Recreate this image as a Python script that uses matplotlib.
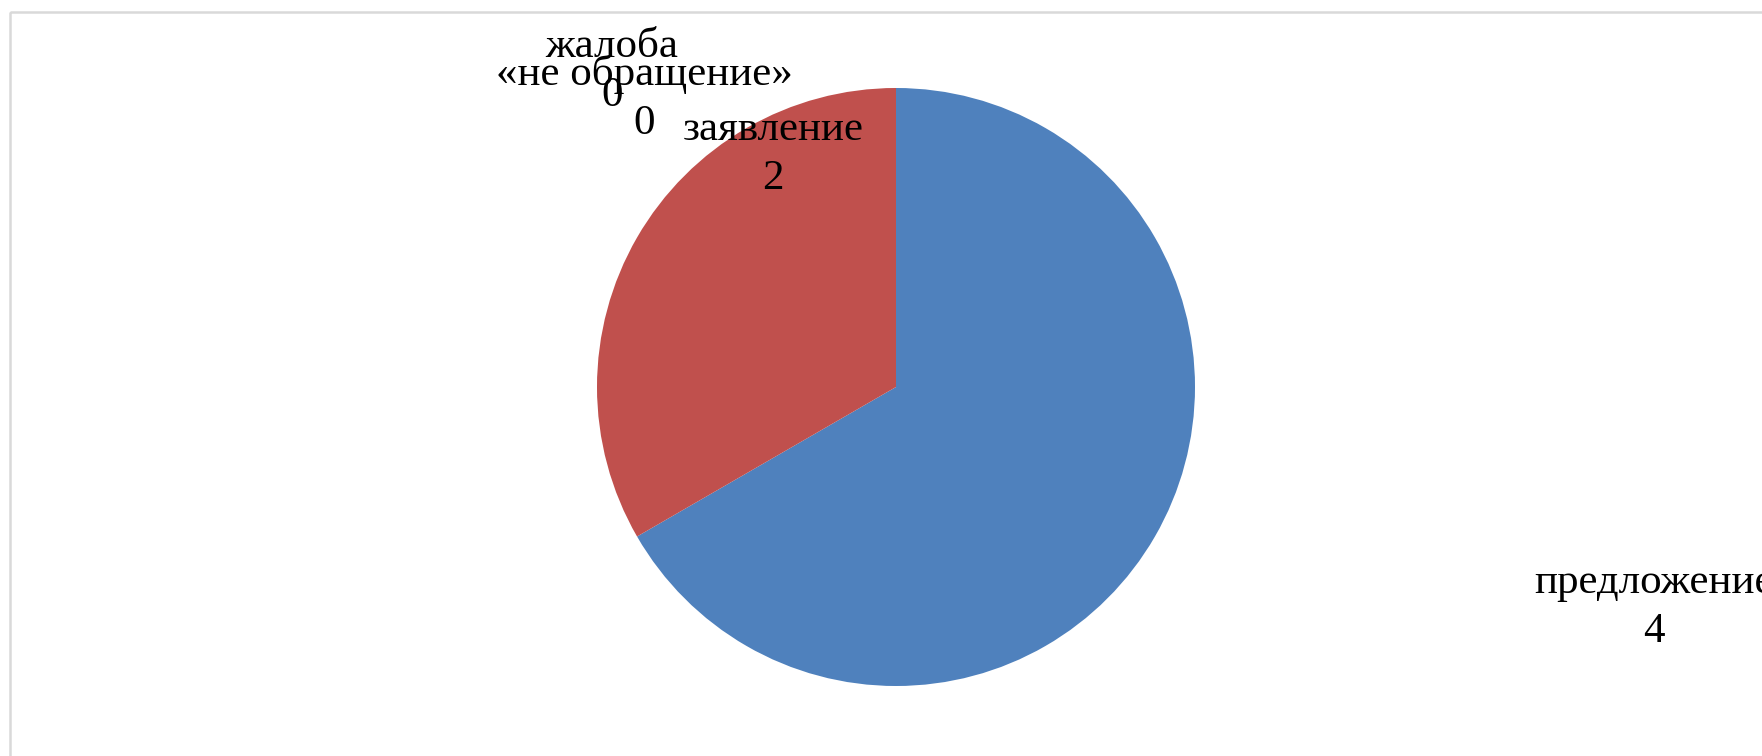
import matplotlib.pyplot as plt
from matplotlib.patches import Rectangle

categories = ['предложение', 'заявление', 'жалоба', '«не обращение»']
values = [4, 2, 0, 0]
colors = ['#4F81BD', '#C0504D', '#9BBB59', '#8064A2']

# label anchors (pixel coords, baseline of the value line)
label_pos = [(1654, 642), (773, 189), (612, 106), (644, 134)]

plt.rcParams['font.family'] = ['Liberation Serif', 'DejaVu Serif']

fig = plt.figure(figsize=(17.62, 7.56), dpi=100)
ax = fig.add_axes([0, 0, 1, 1])

ax.pie(values, colors=colors, startangle=-90, counterclock=True,
       center=(896, 387), radius=299, frame=True,
       wedgeprops=dict(linewidth=0))

ax.set_xlim(0, 1762)
ax.set_ylim(756, 0)
ax.set_aspect('auto')
ax.axis('off')

# chart area border
ax.add_patch(Rectangle((9.5, 11.5), 1800, 800, fill=False,
                       edgecolor='#d9d9d9', linewidth=1.8, clip_on=False))

for cat, val, (x, y) in zip(categories, values, label_pos):
    ax.text(x, y, f'{cat}\n{val}', ha='center', va='baseline',
            fontsize=31, linespacing=1.37, color='black')

fig.savefig('out.png', dpi=100)
